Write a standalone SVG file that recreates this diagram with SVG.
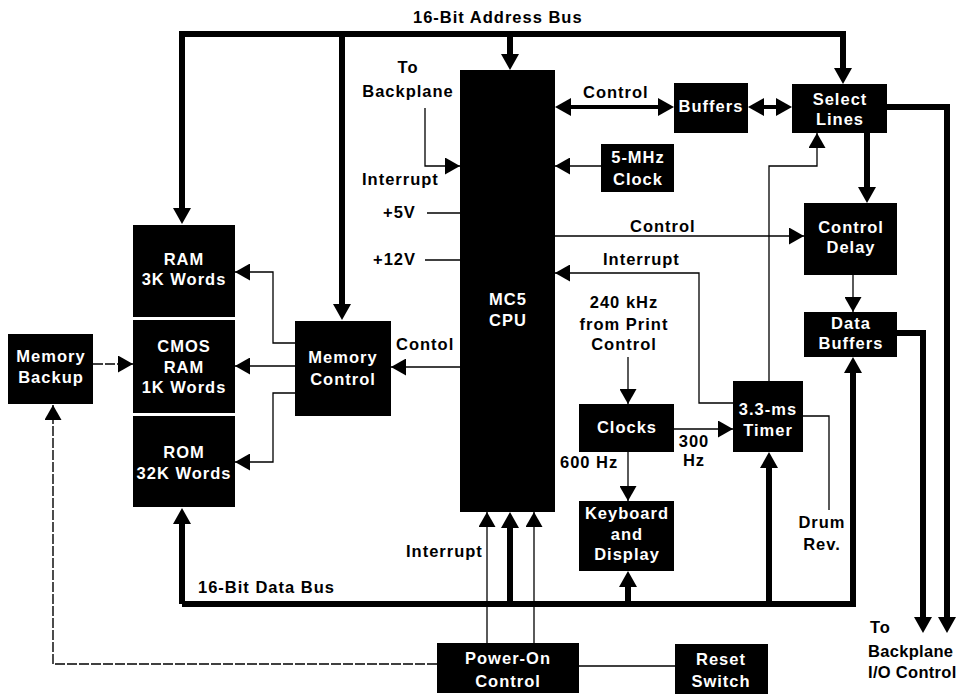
<svg xmlns="http://www.w3.org/2000/svg" width="965" height="694" viewBox="0 0 965 694">
<style>
.box{fill:#000}
.bt{fill:#fff;font-family:"Liberation Sans",Arial,sans-serif;font-weight:bold;font-size:16.5px;letter-spacing:1px;text-anchor:middle}
.lb{fill:#000;font-family:"Liberation Sans",Arial,sans-serif;font-weight:bold;font-size:16.5px;letter-spacing:1px}
.mid{text-anchor:middle}
.tight{letter-spacing:0.3px}
.thin{fill:none;stroke:#000;stroke-width:1.3}
.thick{fill:none;stroke:#000;stroke-width:6;stroke-linejoin:miter}
.med{fill:none;stroke:#000;stroke-width:4}
.dash{fill:none;stroke:#000;stroke-width:1.4;stroke-dasharray:10 2}
</style>
<defs>
<marker id="a" markerUnits="userSpaceOnUse" markerWidth="15" markerHeight="17" refX="15" refY="8.5" orient="auto"><path d="M0,0 L15,8.5 L0,17 z" fill="#000"/></marker>
<marker id="at" markerUnits="userSpaceOnUse" markerWidth="16" markerHeight="18" refX="4" refY="9" orient="auto-start-reverse"><path d="M0,0 L16,9 L0,18 z" fill="#000"/></marker>
</defs>
<rect width="965" height="694" fill="#fff"/>

<g id="connectors">
  <!-- address bus -->
  <path class="thick" d="M510,34 H182 V212" marker-end="url(#at)"/>
  <path class="thick" d="M510,34 H843 V72" marker-end="url(#at)"/>
  <path class="thick" d="M510,34 V58" marker-end="url(#at)"/>
  <path class="thick" d="M342,34 V308" marker-end="url(#at)"/>
  <!-- control bidirectional -->
  <path class="med" d="M567,107 H662" marker-start="url(#at)" marker-end="url(#at)"/>
  <path class="med" d="M760,107 H780" marker-start="url(#at)" marker-end="url(#at)"/>
  <!-- select lines outputs -->
  <path class="thick" d="M887,107 H947 V621" marker-end="url(#at)"/>
  <path class="thick" d="M867,133 V191" marker-end="url(#at)"/>
  <path class="thick" d="M897,333 H923 V621" marker-end="url(#at)"/>
  <!-- data bus -->
  <path class="thick" d="M182,604 V520" marker-end="url(#at)"/>
  <path class="thick" d="M182,604 H853 V369" marker-end="url(#at)"/>
  <path class="thick" d="M510,604 V524" marker-end="url(#at)"/>
  <path class="thick" d="M628,604 V583" marker-end="url(#at)"/>
  <path class="thick" d="M769,604 V464" marker-end="url(#at)"/>
  <!-- thin signals -->
  <path class="thin" d="M425,108 V166 H460" marker-end="url(#a)"/>
  <path class="thin" d="M601,166 H555" marker-end="url(#a)"/>
  <path class="thin" d="M769,381 V166 H817 V133" marker-end="url(#a)"/>
  <path class="thin" d="M555,236 H804" marker-end="url(#a)"/>
  <path class="thin" d="M733,403 H699 V273 H555" marker-end="url(#a)"/>
  <path class="thin" d="M427,213 H460"/>
  <path class="thin" d="M425,260 H460"/>
  <path class="thin" d="M460,367 H391" marker-end="url(#a)"/>
  <path class="thin" d="M295,343 H273 V272 H235" marker-end="url(#a)"/>
  <path class="thin" d="M295,366 H235" marker-end="url(#a)"/>
  <path class="thin" d="M295,393 H273 V462 H235" marker-end="url(#a)"/>
  <path class="dash" d="M93,364 H133" marker-end="url(#a)"/>
  <path class="dash" d="M437,664 H53 V405" marker-end="url(#a)"/>
  <path class="thin" d="M628,357 V404" marker-end="url(#a)"/>
  <path class="thin" d="M674,429 H733" marker-end="url(#a)"/>
  <path class="thin" d="M628,452 V501" marker-end="url(#a)"/>
  <path class="thin" d="M853,275 V312" marker-end="url(#a)"/>
  <path class="thin" d="M803,416 H829 V510"/>
  <path class="thin" d="M487,643 V512" marker-end="url(#a)"/>
  <path class="thin" d="M534,643 V512" marker-end="url(#a)"/>
  <path class="thin" d="M579,666 H675"/>
</g>

<g id="cpu"><rect class="box" x="460" y="70" width="95" height="442"/><text class="bt" x="508" y="305">MC5</text><text class="bt" x="508" y="326">CPU</text></g>
<g id="ram"><rect class="box" x="133" y="225" width="102" height="92"/><text class="bt" x="184" y="265">RAM</text><text class="bt" x="184" y="285">3K Words</text></g>
<g id="cmos"><rect class="box" x="133" y="320" width="102" height="93"/><text class="bt" x="184" y="352">CMOS</text><text class="bt" x="184" y="373">RAM</text><text class="bt" x="184" y="393">1K Words</text></g>
<g id="rom"><rect class="box" x="133" y="416" width="102" height="91"/><text class="bt" x="184" y="458">ROM</text><text class="bt" x="184" y="479">32K Words</text></g>
<g id="memctrl"><rect class="box" x="295" y="321" width="96" height="95"/><text class="bt" x="343" y="363">Memory</text><text class="bt" x="343" y="385">Control</text></g>
<g id="membackup"><rect class="box" x="8" y="334" width="85" height="70"/><text class="bt" x="51" y="362">Memory</text><text class="bt" x="51" y="383">Backup</text></g>
<g id="buffers"><rect class="box" x="674" y="83" width="74" height="50"/><text class="bt" x="711" y="112">Buffers</text></g>
<g id="select"><rect class="box" x="792" y="84" width="95" height="49"/><text class="bt" x="840" y="105">Select</text><text class="bt" x="840" y="125">Lines</text></g>
<g id="clock5"><rect class="box" x="601" y="144" width="73" height="48"/><text class="bt" x="638" y="163">5-MHz</text><text class="bt" x="638" y="185">Clock</text></g>
<g id="ctrldelay"><rect class="box" x="804" y="203" width="93" height="72"/><text class="bt" x="851" y="233">Control</text><text class="bt" x="851" y="253">Delay</text></g>
<g id="databuf"><rect class="box" x="804" y="312" width="93" height="45"/><text class="bt" x="851" y="329">Data</text><text class="bt" x="851" y="349">Buffers</text></g>
<g id="clocks"><rect class="box" x="579" y="404" width="95" height="48"/><text class="bt" x="627" y="433">Clocks</text></g>
<g id="timer"><rect class="box" x="733" y="381" width="70" height="71"/><text class="bt" x="768" y="415">3.3-ms</text><text class="bt" x="768" y="436">Timer</text></g>
<g id="keyboard"><rect class="box" x="579" y="501" width="95" height="70"/><text class="bt" x="627" y="519">Keyboard</text><text class="bt" x="627" y="540">and</text><text class="bt" x="627" y="560">Display</text></g>
<g id="poweron"><rect class="box" x="437" y="643" width="142" height="50"/><text class="bt" x="508" y="664">Power-On</text><text class="bt" x="508" y="687">Control</text></g>
<g id="reset"><rect class="box" x="675" y="644" width="93" height="50"/><text class="bt" x="721" y="665">Reset</text><text class="bt" x="721" y="687">Switch</text></g>

<g id="labels">
  <text class="lb" x="413" y="23">16-Bit Address Bus</text>
  <text class="lb mid" x="408" y="73">To</text>
  <text class="lb mid" x="408" y="97">Backplane</text>
  <text class="lb" x="362" y="185">Interrupt</text>
  <text class="lb" x="383" y="218">+5V</text>
  <text class="lb" x="373" y="265">+12V</text>
  <text class="lb" x="396" y="350">Contol</text>
  <text class="lb" x="583" y="98">Control</text>
  <text class="lb" x="630" y="232">Control</text>
  <text class="lb" x="603" y="265">Interrupt</text>
  <text class="lb mid" x="624" y="308">240 kHz</text>
  <text class="lb mid" x="624" y="330">from Print</text>
  <text class="lb mid" x="624" y="350">Control</text>
  <text class="lb mid" x="694" y="447">300</text>
  <text class="lb mid" x="694" y="466">Hz</text>
  <text class="lb" x="560" y="468">600 Hz</text>
  <text class="lb mid" x="822" y="528">Drum</text>
  <text class="lb mid" x="822" y="550">Rev.</text>
  <text class="lb" x="406" y="557">Interrupt</text>
  <text class="lb" x="198" y="593">16-Bit Data Bus</text>
  <text class="lb" x="870" y="633">To</text>
  <text class="lb tight" x="868" y="657">Backplane</text>
  <text class="lb tight" x="868" y="678">I/O Control</text>
</g>
</svg>
